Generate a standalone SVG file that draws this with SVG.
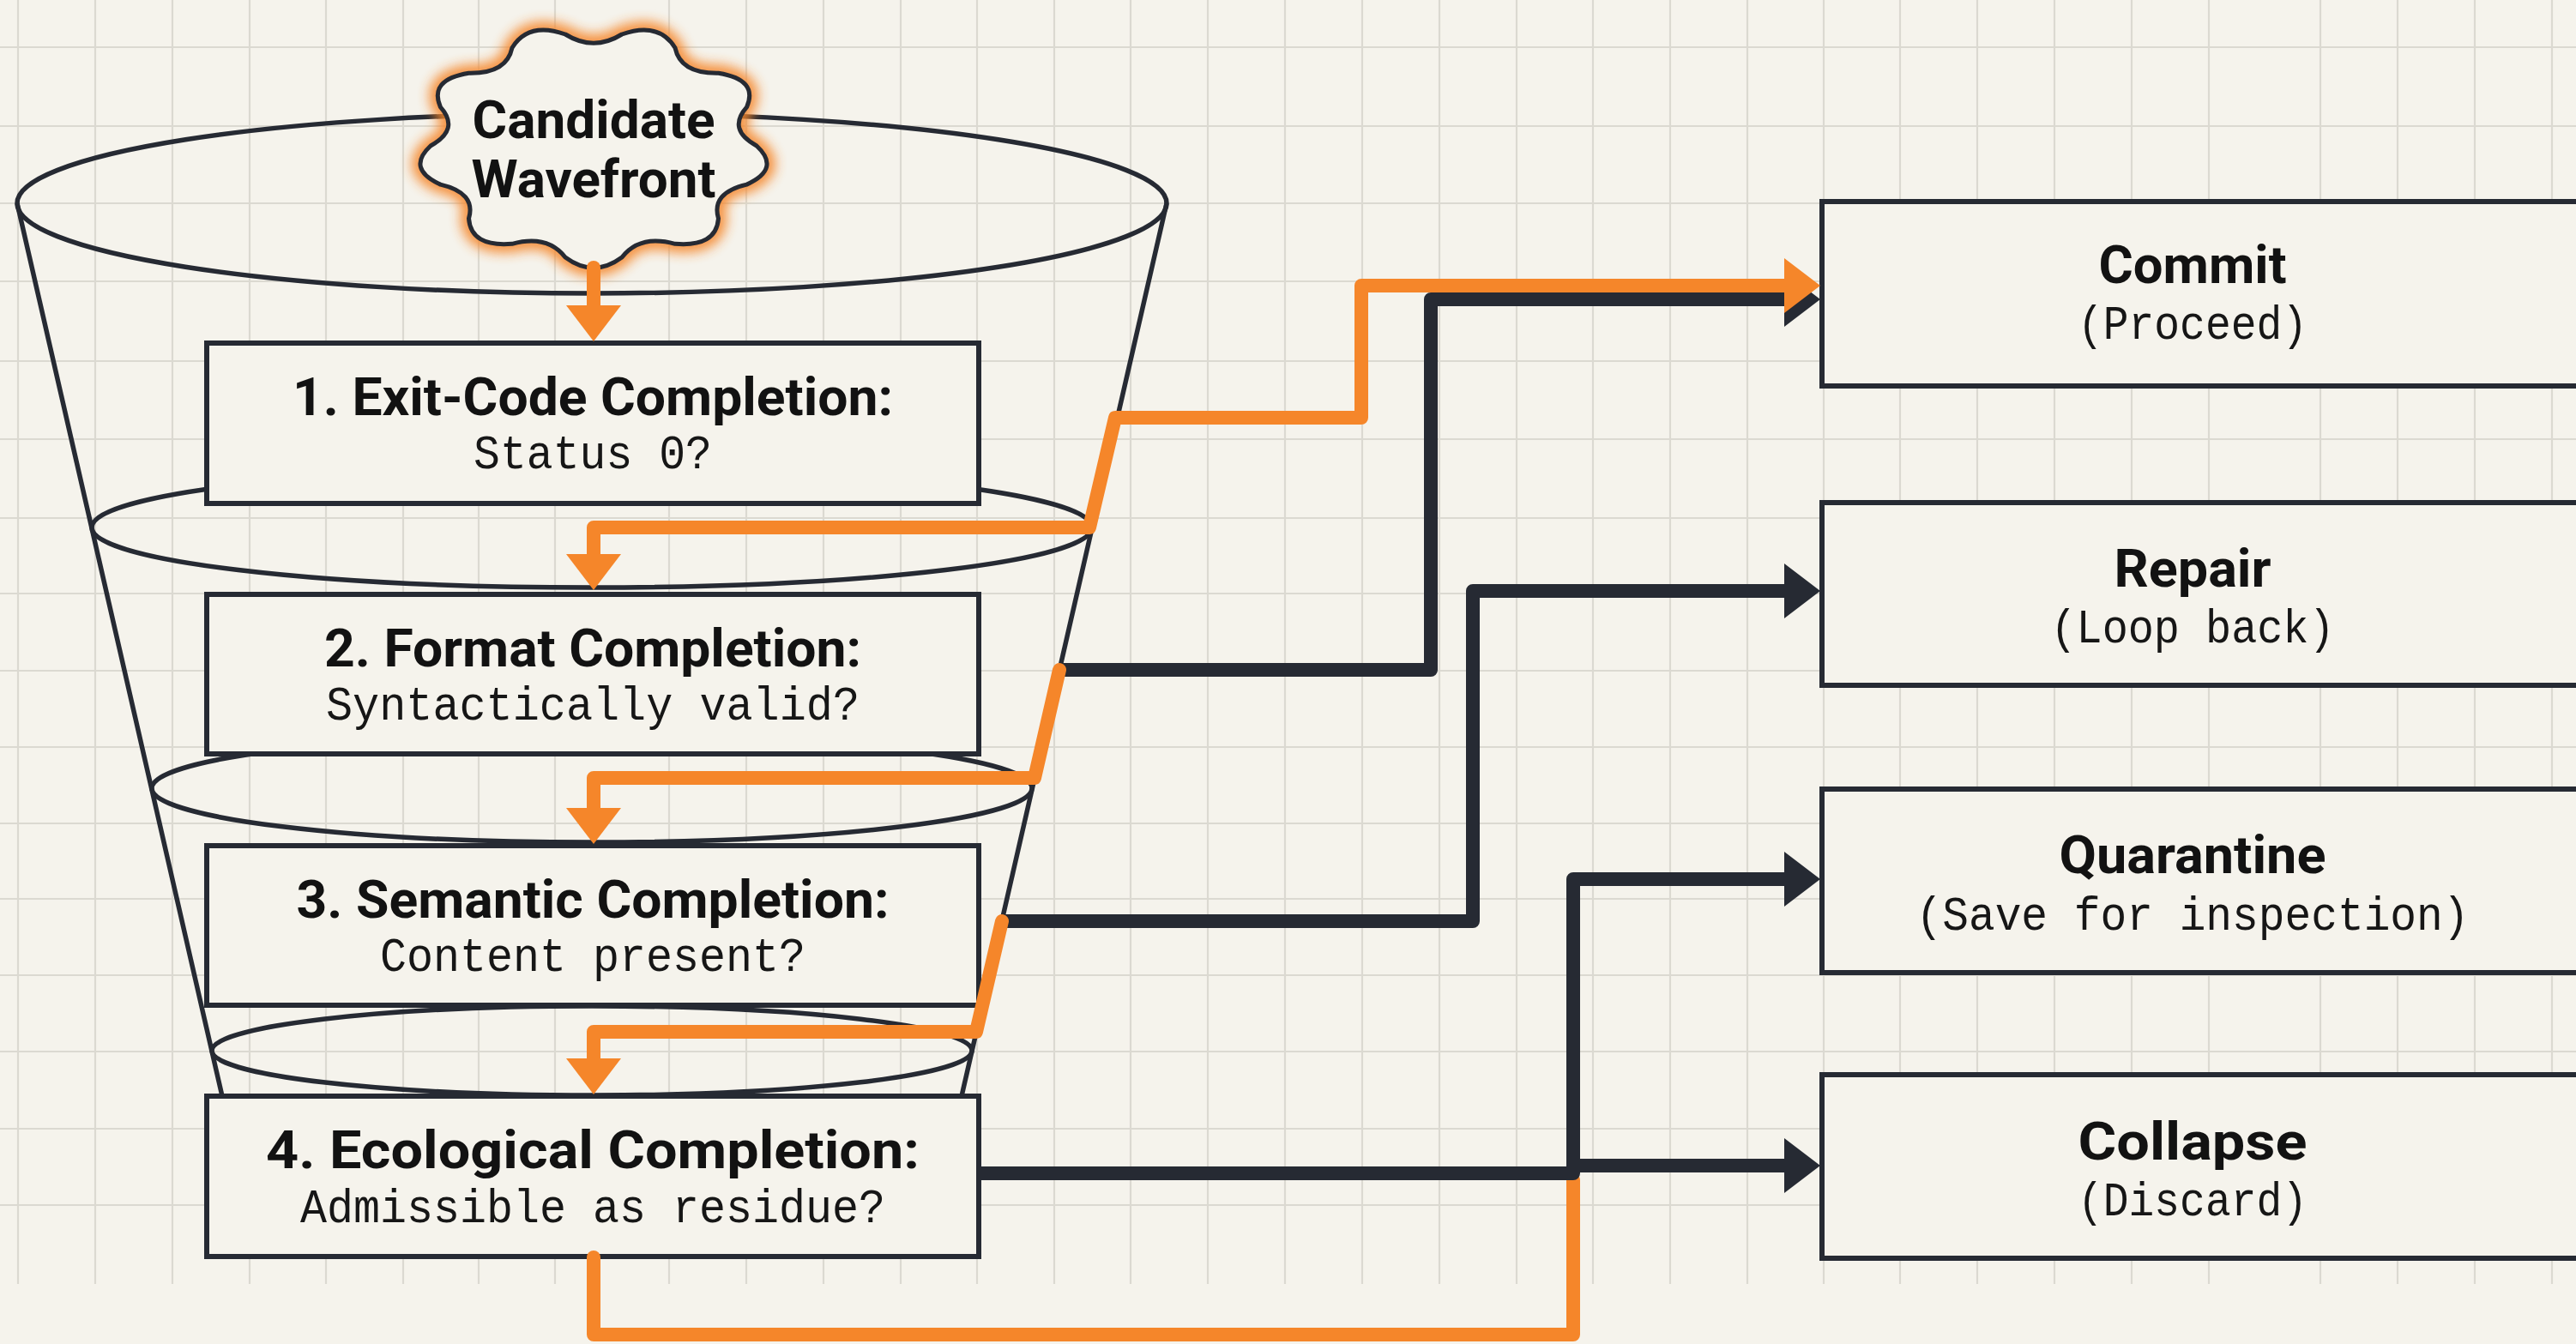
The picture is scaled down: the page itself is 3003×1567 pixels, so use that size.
<svg xmlns="http://www.w3.org/2000/svg" width="3003" height="1567" viewBox="0 0 3003 1567">
<defs>
<style>
.grid{fill:none;stroke:#dbd9d1;stroke-width:2.2}
.fun{fill:none;stroke:#262a33;stroke-width:5.5}
.box{fill:#f5f3ec;stroke:#262a33;stroke-width:6}
.t{font-family:Roboto,"Liberation Sans",Arial,sans-serif;font-weight:700;font-size:61px;fill:#121212;text-anchor:middle}
.m{font-family:"Liberation Mono","DejaVu Sans Mono",monospace;font-size:56px;fill:#161616;text-anchor:middle}
.or{fill:none;stroke:#f5862a;stroke-width:16;stroke-linejoin:round;stroke-linecap:round}
.dk{fill:none;stroke:#262a33;stroke-width:16;stroke-linejoin:round}
</style>
<marker id="ao" markerUnits="userSpaceOnUse" markerWidth="44" markerHeight="66" refX="0" refY="32" orient="auto-start-reverse" overflow="visible"><path d="M0,0 L42,32 L0,64 Z" fill="#f5862a"/></marker>
<marker id="ad" markerUnits="userSpaceOnUse" markerWidth="44" markerHeight="66" refX="0" refY="32" orient="auto-start-reverse" overflow="visible"><path d="M0,0 L42,32 L0,64 Z" fill="#262a33"/></marker>
<filter id="glow" x="-20%" y="-20%" width="140%" height="140%"><feGaussianBlur stdDeviation="7"/></filter>
<path id="cloudShape" d="M882,170 Q910.9,196.8 870.5,215.1 Q828.6,224.8 837.5,254.8 Q834.9,288.3 787,284.3 Q745.9,273 725,300 Q692,324.4 659,300 Q638.1,273 597,284.3 Q549.1,288.3 546.5,254.8 Q555.4,224.8 513.5,215.1 Q473.1,196.8 502,170 Q536.7,151 513.5,124.9 Q499.5,92.8 546.5,85.2 Q590.6,86 597,55.7 Q616,24.9 659,40 Q692,60.4 725,40 Q768,24.9 787,55.7 Q793.4,86 837.5,85.2 Q884.5,92.8 870.5,124.9 Q847.3,151 882,170 Z"/>
</defs>

<rect width="3003" height="1567" fill="#f5f3ec"/>

<g id="grid" class="grid">
<path d="M21 0V1497M111 0V1497M201 0V1497M291 0V1497M380 0V1497M470 0V1497M558 0V1497M647 0V1497M780 0V1497M870 0V1497M960 0V1497M1050 0V1497M1139 0V1497M1229 0V1497M1318 0V1497M1408 0V1497M1498 0V1497M1588 0V1497M1678 0V1497M1768 0V1497M1857 0V1497M1947 0V1497M2037 0V1497M2126 0V1497M2215 0V1497M2305 0V1497M2395 0V1497M2485 0V1497M2575 0V1497M2705 0V1497M2795 0V1497M2885 0V1497M2975 0V1497"/>
<path d="M0 55H3003M0 147H3003M0 237H3003M0 328H3003M0 421H3003M0 512H3003M0 604H3003M0 692H3003M0 782H3003M0 871H3003M0 960H3003M0 1048H3003M0 1137H3003M0 1226H3003M0 1316H3003M0 1405H3003"/>
</g>

<g id="funnel" class="fun">
<ellipse cx="690" cy="237" rx="670" ry="105"/>
<ellipse cx="690" cy="615" rx="583" ry="70"/>
<ellipse cx="690" cy="919" rx="513" ry="63"/>
<ellipse cx="690" cy="1225" rx="443" ry="52"/>
<line x1="20" y1="237" x2="259" y2="1278"/>
<line x1="1360" y1="237" x2="1121" y2="1278"/>
</g>

<g id="stage1">
<rect class="box" x="241" y="400" width="900" height="187"/>
<text class="t" x="691" y="484" textLength="700" lengthAdjust="spacingAndGlyphs">1. Exit-Code Completion:</text>
<text class="m" x="691" y="546" textLength="278" lengthAdjust="spacingAndGlyphs">Status 0?</text>
</g>
<g id="stage2">
<rect class="box" x="241" y="693" width="900" height="186"/>
<text class="t" x="691" y="777" textLength="626" lengthAdjust="spacingAndGlyphs">2. Format Completion:</text>
<text class="m" x="691" y="839" textLength="622" lengthAdjust="spacingAndGlyphs">Syntactically valid?</text>
</g>
<g id="stage3">
<rect class="box" x="241" y="986" width="900" height="186"/>
<text class="t" x="691" y="1070" textLength="691" lengthAdjust="spacingAndGlyphs">3. Semantic Completion:</text>
<text class="m" x="691" y="1132" textLength="496" lengthAdjust="spacingAndGlyphs">Content present?</text>
</g>
<g id="stage4">
<rect class="box" x="241" y="1278" width="900" height="187"/>
<text class="t" x="691" y="1362" textLength="762" lengthAdjust="spacingAndGlyphs">4. Ecological Completion:</text>
<text class="m" x="691" y="1425" textLength="682" lengthAdjust="spacingAndGlyphs">Admissible as residue?</text>
</g>

<g id="commit">
<rect class="box" x="2124" y="235" width="1000" height="215"/>
<text class="t" x="2556" y="330" textLength="219" lengthAdjust="spacingAndGlyphs">Commit</text>
<text class="m" x="2556" y="395" textLength="268" lengthAdjust="spacingAndGlyphs">(Proceed)</text>
</g>
<g id="repair">
<rect class="box" x="2124" y="586" width="1000" height="213"/>
<text class="t" x="2556" y="684" textLength="183" lengthAdjust="spacingAndGlyphs">Repair</text>
<text class="m" x="2556" y="749" textLength="331" lengthAdjust="spacingAndGlyphs">(Loop back)</text>
</g>
<g id="quarantine">
<rect class="box" x="2124" y="920" width="1000" height="214"/>
<text class="t" x="2556" y="1018" textLength="311" lengthAdjust="spacingAndGlyphs">Quarantine</text>
<text class="m" x="2556" y="1084" textLength="645" lengthAdjust="spacingAndGlyphs">(Save for inspection)</text>
</g>
<g id="collapse">
<rect class="box" x="2124" y="1253" width="1000" height="214"/>
<text class="t" x="2556" y="1352" textLength="267" lengthAdjust="spacingAndGlyphs">Collapse</text>
<text class="m" x="2556" y="1417" textLength="268" lengthAdjust="spacingAndGlyphs">(Discard)</text>
</g>

<g id="candidate">
<use href="#cloudShape" fill="none" stroke="#f5862a" stroke-width="20" opacity="0.9" filter="url(#glow)"/>
<use href="#cloudShape" fill="#f5f3ec" stroke="#262a33" stroke-width="5"/>
<text class="t" x="692" y="161" font-size="57" textLength="283" lengthAdjust="spacingAndGlyphs">Candidate</text>
<text class="t" x="692" y="230" font-size="57" textLength="285" lengthAdjust="spacingAndGlyphs">Wavefront</text>
</g>

<g id="connectors">
<path class="or" d="M692 1466 V1556 H1834 V1376"/>
<path class="dk" d="M1237 781 H1668 V349 H2080" marker-end="url(#ad)"/>
<path class="dk" d="M1169 1074 H1717 V689 H2080" marker-end="url(#ad)"/>
<path class="dk" d="M1141 1368 H1834 V1025 H2080" marker-end="url(#ad)"/>
<path class="dk" d="M1834 1359 H2080" marker-end="url(#ad)"/>
<path class="or" d="M692 312 V356" marker-end="url(#ao)"/>
<path class="or" d="M2080 333 H1587 V487 H1300 L1270 615 H692 V646" marker-start="url(#ao)" marker-end="url(#ao)"/>
<path class="or" d="M1235 781 L1206 907 H692 V942" marker-end="url(#ao)"/>
<path class="or" d="M1168 1074 L1138 1203 H692 V1234" marker-end="url(#ao)"/>
</g>
</svg>
